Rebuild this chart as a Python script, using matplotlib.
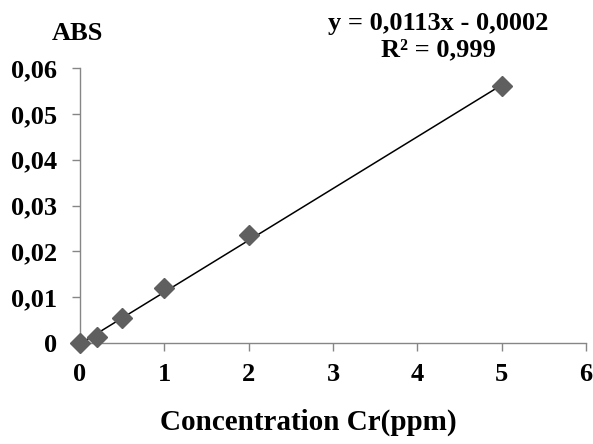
import numpy as np
import matplotlib.pyplot as plt

plt.rcParams['font.family'] = ['Liberation Serif', 'DejaVu Serif']
plt.rcParams['font.weight'] = 'bold'

# calibration standards, Cr (ppm) vs absorbance
conc = [0, 0.2, 0.5, 1, 2, 5]
absorb = [0.0, 0.0012, 0.0054, 0.012, 0.0235, 0.056]

# linear trendline as reported
slope = 0.0113
intercept = -0.0002
r2 = 0.999

xticks = [0, 1, 2, 3, 4, 5, 6]
yticks = [0, 0.01, 0.02, 0.03, 0.04, 0.05, 0.06]
ytick_labels = ['0', '0,01', '0,02', '0,03', '0,04', '0,05', '0,06']

fig = plt.figure(figsize=(5.93, 4.44), dpi=100)
ax = fig.add_axes([0.1349, 0.2275, 0.8533, 0.6193])

xfit = np.array([conc[0], conc[-1]])
ax.plot(xfit, slope * xfit + intercept, color='black', lw=1.1, zorder=2)
ax.plot(conc, absorb, ls='none', marker='D', ms=10.5, color='#5f5f5f',
        mec='#5f5f5f', zorder=3, clip_on=False)

ax.set_xlim(0, 6)
ax.set_ylim(0, 0.06)
ax.set_xticks(xticks)
ax.set_xticklabels([str(t) for t in xticks])
ax.set_yticks(yticks)
ax.set_yticklabels(ytick_labels)

for s in ['top', 'right']:
    ax.spines[s].set_visible(False)
for s in ['left', 'bottom']:
    ax.spines[s].set_color('#868686')
    ax.spines[s].set_linewidth(1.0)

ax.tick_params(axis='both', colors='#868686', length=5.5, width=1.0,
               labelsize=19, labelcolor='black')
ax.tick_params(axis='x', pad=9)
ax.tick_params(axis='y', pad=11)

fig.text(308 / 593, 1 - 422 / 444, 'Concentration Cr(ppm)', fontsize=21,
         fontweight='bold', ha='center', va='center')
fig.text(77 / 593, 1 - 33 / 444, 'ABS', fontsize=19, fontweight='bold',
         ha='center', va='center')
fig.text(438 / 593, 1 - 37 / 444,
         'y = 0,0113x - 0,0002\nR² = 0,999', fontsize=19, fontweight='bold',
         ha='center', va='center', linespacing=1.2)

fig.savefig('out.png', dpi=100)
